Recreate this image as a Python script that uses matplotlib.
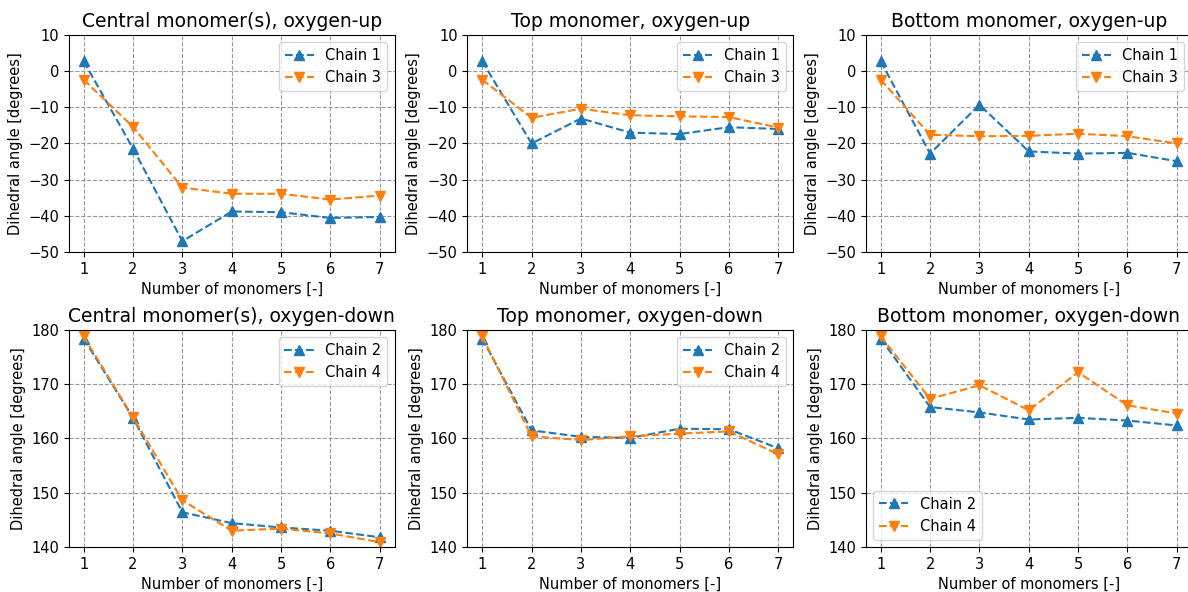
import matplotlib
matplotlib.use("Agg")
import matplotlib.pyplot as plt

n_monomers = [1, 2, 3, 4, 5, 6, 7]

# oxygen-up (chains 1 and 3)
central_up_c1 = [2.7, -21.4, -47.0, -38.8, -39.0, -40.6, -40.3]
central_up_c3 = [-2.4, -15.4, -32.2, -33.9, -33.9, -35.5, -34.4]
top_up_c1 = [2.7, -20.0, -13.1, -17.0, -17.4, -15.5, -16.0]
top_up_c3 = [-2.4, -12.9, -10.4, -12.2, -12.5, -12.7, -15.6]
bottom_up_c1 = [2.7, -22.8, -9.3, -22.2, -22.8, -22.6, -24.9]
bottom_up_c3 = [-2.4, -17.6, -18.0, -17.9, -17.3, -18.0, -20.0]

# oxygen-down (chains 2 and 4)
central_down_c2 = [178.4, 163.8, 146.4, 144.4, 143.6, 143.0, 141.8]
central_down_c4 = [178.8, 163.9, 148.6, 143.0, 143.4, 142.5, 140.9]
top_down_c2 = [178.4, 161.5, 160.3, 160.1, 161.8, 161.7, 158.2]
top_down_c4 = [178.8, 160.4, 159.7, 160.4, 160.9, 161.3, 157.1]
bottom_down_c2 = [178.4, 165.8, 164.8, 163.5, 163.8, 163.3, 162.4]
bottom_down_c4 = [178.8, 167.3, 169.8, 165.2, 172.2, 166.1, 164.6]

titles = ["Central monomer(s), oxygen-up", "Top monomer, oxygen-up",
          "Bottom monomer, oxygen-up", "Central monomer(s), oxygen-down",
          "Top monomer, oxygen-down", "Bottom monomer, oxygen-down"]

panels = [
    (central_up_c1, central_up_c3, "Chain 1", "Chain 3"),
    (top_up_c1, top_up_c3, "Chain 1", "Chain 3"),
    (bottom_up_c1, bottom_up_c3, "Chain 1", "Chain 3"),
    (central_down_c2, central_down_c4, "Chain 2", "Chain 4"),
    (top_down_c2, top_down_c4, "Chain 2", "Chain 4"),
    (bottom_down_c2, bottom_down_c4, "Chain 2", "Chain 4"),
]

plt.rcParams['font.size'] = 10.5

fig, axes = plt.subplots(2, 3, figsize=(11.88, 5.92), dpi=100)
fig.subplots_adjust(left=0.058, right=1.003, top=0.941, bottom=0.076,
                    wspace=0.224, hspace=0.359)

for i, (ax, (a, b, la, lb)) in enumerate(zip(axes.flat, panels)):
    ax.plot(n_monomers, a, '^--', color='tab:blue', label=la, markersize=7)
    ax.plot(n_monomers, b, 'v--', color='tab:orange', label=lb, markersize=7)
    ax.set_title(titles[i], fontsize=13.5)
    ax.set_xlabel("Number of monomers [-]")
    ax.set_ylabel("Dihedral angle [degrees]")
    ax.set_xticks(n_monomers)
    if i < 3:
        ax.set_ylim(-50, 10)
    else:
        ax.set_ylim(140, 180)
        ax.set_yticks([140, 150, 160, 170, 180])
    ax.grid(True, linestyle='--', color='gray', alpha=0.8)
    ax.legend(loc='lower left' if i == 5 else 'upper right', fontsize=10.5)

plt.savefig("out.png")
